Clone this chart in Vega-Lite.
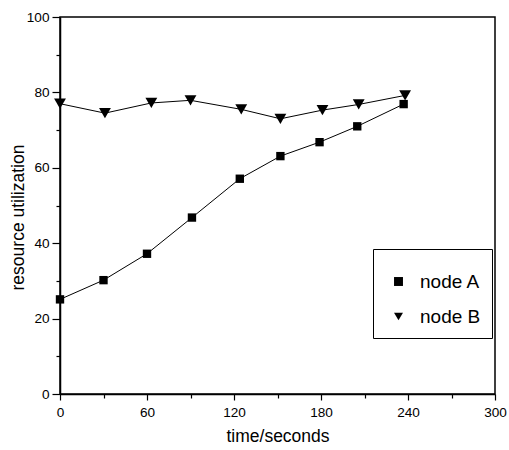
{
  "$schema": "https://vega.github.io/schema/vega-lite/v6.json",
  "width": 435,
  "height": 377,
  "autosize": {"type": "none"},
  "padding": {"left": 60, "top": 17, "right": 14, "bottom": 56},
  "background": "white",
  "config": {
    "font": "Liberation Sans",
    "view": {"stroke": "black", "strokeWidth": 1.5},
    "axis": {
      "grid": false,
      "domainColor": "black",
      "domainWidth": 1.5,
      "tickColor": "black",
      "tickWidth": 1.2,
      "labelColor": "black",
      "titleColor": "black",
      "labelFontSize": 13.6,
      "titleFontSize": 17.5,
      "titleFontWeight": "normal"
    }
  },
  "data": {
    "values": [
      {"series": "node A", "t": 0, "u": 25.1},
      {"series": "node A", "t": 30, "u": 30.2},
      {"series": "node A", "t": 60, "u": 37.2},
      {"series": "node A", "t": 91, "u": 46.8},
      {"series": "node A", "t": 124, "u": 57.1},
      {"series": "node A", "t": 152, "u": 63.1},
      {"series": "node A", "t": 179, "u": 66.8},
      {"series": "node A", "t": 205, "u": 71.0},
      {"series": "node A", "t": 237, "u": 76.9},
      {"series": "node B", "t": 0, "u": 77.0},
      {"series": "node B", "t": 31, "u": 74.5},
      {"series": "node B", "t": 63, "u": 77.2},
      {"series": "node B", "t": 90, "u": 77.9},
      {"series": "node B", "t": 125, "u": 75.5},
      {"series": "node B", "t": 152, "u": 73.0},
      {"series": "node B", "t": 181, "u": 75.3},
      {"series": "node B", "t": 206, "u": 76.8},
      {"series": "node B", "t": 238, "u": 79.2}
    ]
  },
  "encoding": {
    "x": {
      "field": "t", "type": "quantitative",
      "scale": {"domain": [0, 300], "nice": false, "zero": false},
      "axis": {
        "title": "time/seconds",
        "values": [0, 30, 60, 90, 120, 150, 180, 210, 240, 270, 300],
        "labelExpr": "datum.value % 60 === 0 ? datum.label : ''",
        "tickSize": {"condition": {"test": "datum.value % 60 === 0", "value": 6}, "value": 4},
        "labelPadding": 5,
        "titlePadding": 9,
        "labelFlush": false
      }
    },
    "y": {
      "field": "u", "type": "quantitative",
      "scale": {"domain": [0, 100], "nice": false},
      "axis": {
        "title": "resource utilization",
        "values": [0, 10, 20, 30, 40, 50, 60, 70, 80, 90, 100],
        "labelExpr": "datum.value % 20 === 0 ? datum.label : ''",
        "tickSize": {"condition": {"test": "datum.value % 20 === 0", "value": 8}, "value": 4},
        "labelPadding": 3,
        "titlePadding": -1,
        "titleY": 200,
        "labelFlush": false
      }
    }
  },
  "layer": [
    {
      "mark": {"type": "line", "color": "black", "strokeWidth": 1},
      "encoding": {"detail": {"field": "series"}}
    },
    {
      "transform": [{"filter": "datum.series === 'node A'"}],
      "mark": {"type": "point", "filled": true, "opacity": 1, "color": "black", "size": 70},
      "encoding": {
        "shape": {
          "field": "series", "type": "nominal",
          "scale": {"domain": ["node A", "node B"], "range": ["square", "triangle-down"]},
          "legend": {
            "title": " ",
            "titleFontSize": 8,
            "titlePadding": 4,
            "orient": "none",
            "legendX": 313,
            "legendY": 232,
            "strokeColor": "black",
            "fillColor": "white",
            "padding": 11,
            "labelFontSize": 19,
            "labelColor": "black",
            "symbolFillColor": "black",
            "symbolStrokeColor": "black",
            "symbolSize": 80,
            "symbolOffset": 5,
            "labelOffset": 12,
            "rowPadding": 15
          }
        }
      }
    },
    {
      "transform": [{"filter": "datum.series === 'node B'"}],
      "mark": {"type": "point", "filled": true, "opacity": 1, "color": "black", "size": 140},
      "encoding": {
        "shape": {"field": "series", "type": "nominal"}
      }
    }
  ]
}
